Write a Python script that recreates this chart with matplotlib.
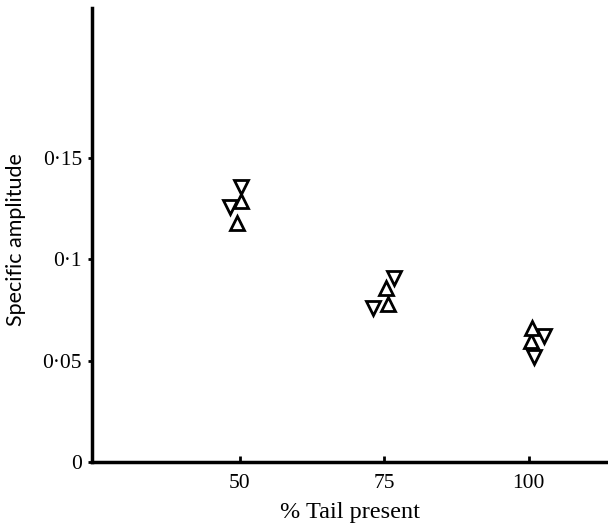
import matplotlib.pyplot as plt

# data: (x, y) per marker type
up_x = [49.5, 50.2, 75.3, 75.7, 100.3, 100.5]
up_y = [0.118, 0.1288, 0.0859, 0.078, 0.0597, 0.0661]
down_x = [50.2, 48.3, 76.7, 73.1, 102.6, 100.9]
down_y = [0.1357, 0.1259, 0.0908, 0.076, 0.0622, 0.0518]

xticks = [50, 75, 100]
yticks = [0, 0.05, 0.1, 0.15]
ytick_labels = ["0", "0·05", "0·1", "0·15"]

plt.rcParams['font.family'] = ['Liberation Serif', 'DejaVu Serif']

fig = plt.figure(figsize=(6.08, 5.28), dpi=100)
ax = fig.add_axes([0.151, 0.125, 0.849, 0.86])

ax.plot(up_x, up_y, linestyle='none', marker='^', ms=10, mfc='white',
        mec='black', mew=2)
ax.plot(down_x, down_y, linestyle='none', marker='v', ms=10, mfc='white',
        mec='black', mew=2)

ax.set_xlim(24.4, 113.7)
ax.set_ylim(0, 0.224)

ax.spines['top'].set_visible(False)
ax.spines['right'].set_visible(False)
ax.spines['left'].set_linewidth(2.5)
ax.spines['bottom'].set_linewidth(2.5)

ax.set_xticks(xticks)
ax.set_xticklabels([str(t) for t in xticks])
ax.set_yticks(yticks)
ax.set_yticklabels(ytick_labels)
ax.tick_params(axis='x', direction='in', length=4, width=2, labelsize=15.5, pad=9)
ax.tick_params(axis='y', direction='out', length=3, width=2, labelsize=15.5, pad=4)

ax.set_xlabel("% Tail present", fontsize=17.5, labelpad=6)
ax.set_ylabel("Specific amplitude", fontsize=15.5, labelpad=12, y=0.49,
              family=['Lato', 'DejaVu Sans'])

fig.savefig("out.png", dpi=100)
